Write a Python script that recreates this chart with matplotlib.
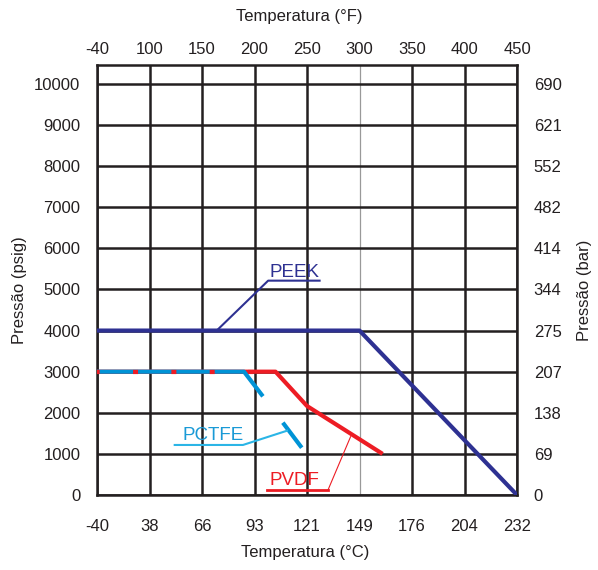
import numpy as np
import matplotlib
matplotlib.use('Agg')
import matplotlib.pyplot as plt

plt.rcParams['font.family'] = ['Liberation Sans', 'DejaVu Sans']

# axis ticks / labels
temp_f_ticks = [-40, 100, 150, 200, 250, 300, 350, 400, 450]
temp_c_labels = ['-40', '38', '66', '93', '121', '149', '176', '204', '232']
psig_ticks = [0, 1000, 2000, 3000, 4000, 5000, 6000, 7000, 8000, 9000, 10000]
bar_labels = ['0', '69', '138', '207', '275', '344', '414', '482', '552', '621', '690']

# curves (temperature in F, pressure in psig)
peek_t = [-40, 300, 450]
peek_p = [4000, 4000, 0]
pvdf_t = [-40, 220, 250, 322]
pvdf_p = [3000, 3000, 2165, 1000]
pctfe_t = [-40, 190, 208, np.nan, 227, 245]
pctfe_p = [3000, 3000, 2400, np.nan, 1760, 1150]

c_peek = '#2e3192'
c_pvdf = '#ed1c24'
c_pctfe = '#0093d6'

# tick positions are evenly spaced, so use a piecewise scale
pos = np.arange(len(temp_f_ticks))
def fwd(x):
    return np.interp(x, temp_f_ticks, pos)
def inv(p):
    return np.interp(p, pos, temp_f_ticks)

fig = plt.figure(figsize=(5.98, 5.70), dpi=100)
ax = fig.add_axes([97/598, 75/570, 420/598, 430/570])
ax.set_xscale('function', functions=(fwd, inv))
ax.set_xlim(-40, 450)
ax.set_ylim(0, 10460)

ax.set_xticks(temp_f_ticks)
ax.set_xticklabels(temp_c_labels)
ax.set_yticks(psig_ticks)
ax.tick_params(length=0, labelsize=12, colors='#231f20')
ax.tick_params(axis='x', pad=17)
ax.tick_params(axis='y', pad=12)
ax.grid(True, color='#231f20', lw=1.8)
ax.xaxis.get_gridlines()[5].set_color('#999999')
ax.xaxis.get_gridlines()[5].set_linewidth(0.9)
for s in ax.spines.values():
    s.set_linewidth(1.8)
    s.set_color('#231f20')

# top axis (F)
axt = ax.twiny()
axt.set_xscale('function', functions=(fwd, inv))
axt.set_xlim(-40, 450)
axt.set_xticks(temp_f_ticks)
axt.set_xticklabels([str(t) for t in temp_f_ticks])
axt.tick_params(length=0, labelsize=12, pad=6, colors='#231f20')

# right axis (bar)
axr = ax.twinx()
axr.set_ylim(0, 10460)
axr.set_yticks(psig_ticks)
axr.set_yticklabels(bar_labels)
axr.tick_params(length=0, labelsize=12, pad=12, colors='#231f20')
for a in (axt, axr):
    for s in a.spines.values():
        s.set_visible(False)

# curves
ax.plot(pvdf_t, pvdf_p, color=c_pvdf, lw=3, solid_capstyle='butt', zorder=3)
ax.plot(pctfe_t, pctfe_p, color=c_pctfe, lw=3, solid_capstyle='butt', zorder=4)
ax.plot(pvdf_t[:2], pvdf_p[:2], color=c_pvdf, lw=3, dash_capstyle='butt',
        linestyle=(0.55, (1.2, 8.0)), zorder=5)
ax.plot(peek_t, peek_p, color=c_peek, lw=3, solid_capstyle='butt', zorder=4)

# labels with leader lines
ax.plot([164, 213, 262], [4000, 5214, 5214], color=c_peek, lw=1.5, zorder=5)
ax.text(214, 5420, 'PEEK', color=c_peek, fontsize=13.5, va='center', ha='left')

ax.plot([124, 189, 231], [1217, 1217, 1564], color='#2bb5e6', lw=1.5, zorder=5)
ax.text(131, 1450, 'PCTFE', color='#1a9ad6', fontsize=13.5, va='center', ha='left')

ax.plot([212, 270], [122, 122], color=c_pvdf, lw=2, zorder=5)
ax.plot([270, 291.5], [122, 1418], color=c_pvdf, lw=0.8, zorder=5)
ax.text(214, 360, 'PVDF', color=c_pvdf, fontsize=13.5, va='center', ha='left')

fig.text(299/598, 1 - 16/570, 'Temperatura (°F)', fontsize=12, ha='center', va='center', color='#231f20')
fig.text(305/598, 1 - 553/570, 'Temperatura (°C)', fontsize=12, ha='center', va='center', color='#231f20')
fig.text(20/598, 1 - 290/570, 'Pressão (psig)', fontsize=12, rotation=90, ha='center', va='center', color='#231f20')
fig.text(585/598, 1 - 290/570, 'Pressão (bar)', fontsize=12, rotation=90, ha='center', va='center', color='#231f20')

plt.savefig('out.png', dpi=100)
